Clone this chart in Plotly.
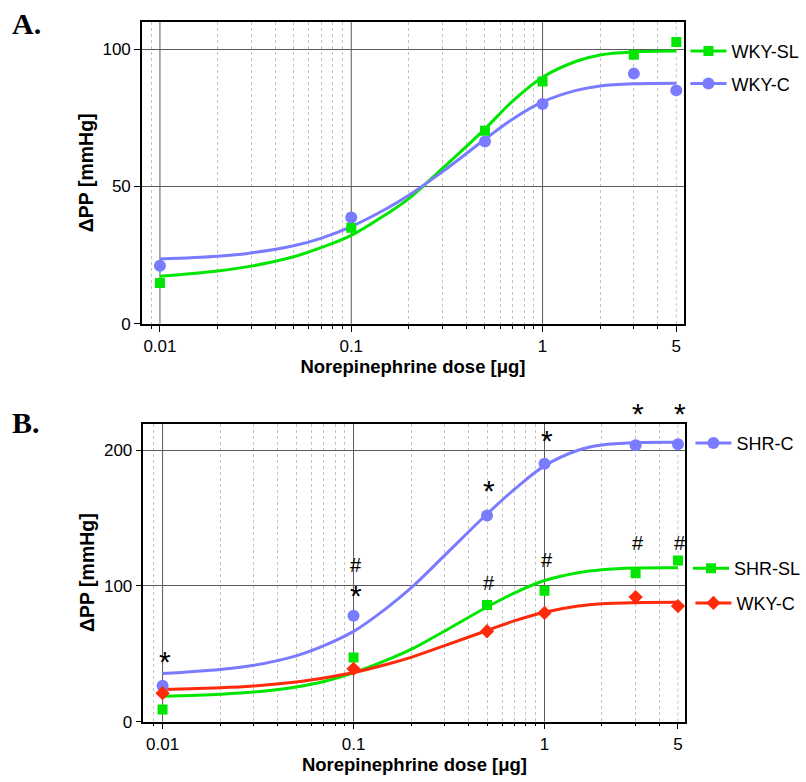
import math
import plotly.graph_objects as go

W, H = 806, 782

# ---------------- data ----------------
dose = [0.01, 0.1, 0.5, 1, 3, 5]

# Panel A (measured points)
a_wky_sl = [14.9, 35.0, 70.3, 88.2, 98.0, 102.6]
a_wky_c = [21.1, 38.7, 66.4, 80.0, 91.1, 85.0]

# Panel A fitted curves
a_curve_dose = [0.01, 0.02, 0.03, 0.05, 0.07, 0.1, 0.15, 0.2, 0.3, 0.5, 0.7, 1, 1.5, 2, 3, 5]
a_curve_wky_sl = [17.3, 19.2, 21.0, 24.4, 27.8, 32.2, 39.6, 45.6, 56.6, 71.0, 81.2, 89.8, 95.6, 97.9, 99.0, 99.3]
a_curve_wky_c = [23.6, 24.6, 25.8, 28.4, 31.2, 35.4, 41.6, 46.8, 55.4, 67.2, 74.6, 80.8, 85.0, 86.6, 87.4, 87.6]

# Panel B (measured points)
b_shr_c = [26.5, 78.0, 152.0, 190.0, 203.7, 204.4]
b_shr_sl = [9.0, 47.3, 86.0, 96.4, 109.3, 118.7]
b_wky_c = [21.0, 38.9, 66.6, 80.1, 91.8, 85.2]

# Panel B fitted curves
b_curve_dose = [0.01, 0.02, 0.03, 0.05, 0.07, 0.1, 0.15, 0.2, 0.3, 0.5, 0.7, 1, 1.5, 2, 3, 5]
b_curve_shr_c = [35.5, 38.5, 41.5, 48.5, 56.0, 66.5, 84.0, 98.5, 122.5, 153.0, 171.5, 188.5, 200.0, 203.8, 205.5, 205.8]
b_curve_shr_sl = [18.7, 20.2, 21.8, 25.6, 29.6, 36.0, 45.5, 53.2, 66.8, 84.5, 95.0, 104.0, 109.8, 112.0, 113.2, 113.4]
b_curve_wky_c = [23.8, 25.0, 26.3, 29.2, 32.2, 36.2, 42.3, 47.4, 56.0, 67.2, 74.4, 80.6, 85.2, 86.9, 87.7, 87.9]

# significance marks in panel B
star_dose = [0.01, 0.1, 0.5, 1, 3, 5]
star_y = [49.4, 97.9, 175.4, 212.5, 231.8, 231.8]
hash_dose = [0.1, 0.5, 1, 3, 5]
hash_y = [115.6, 102.3, 119.2, 131.8, 132.0]

x_tickvals = [0.01, 0.1, 1, 5]
x_ticktext = ["0.01", "0.1", "1", "5"]
x_major = [0.01, 0.1, 1]
x_minor = [0.009, 0.02, 0.03, 0.04, 0.05, 0.06, 0.07, 0.08, 0.09,
           0.2, 0.3, 0.4, 0.5, 0.6, 0.7, 0.8, 0.9, 2, 3, 4]
x_light_extra = [5]
a_yticks = [0, 50, 100]
b_yticks = [0, 100, 200]

GREEN = "#00e600"
BLUE = "#7b7bff"
RED = "#ff2a0a"
FONT = "Liberation Sans"

fig = go.Figure()

def add_curve(x, y, color, xa, ya):
    fig.add_trace(go.Scatter(x=x, y=y, mode="lines", line=dict(color=color, width=3, shape="spline", smoothing=1.0),
                             xaxis=xa, yaxis=ya, showlegend=False, hoverinfo="skip"))

def add_points(x, y, color, symbol, size, xa, ya):
    fig.add_trace(go.Scatter(x=x, y=y, mode="markers", marker=dict(color=color, symbol=symbol, size=size),
                             xaxis=xa, yaxis=ya, showlegend=False))

def add_key(name, color, symbol, size, xa, ya, legend):
    fig.add_trace(go.Scatter(x=[None], y=[None], mode="lines+markers", name=name,
                             line=dict(color=color, width=3),
                             marker=dict(color=color, symbol=symbol, size=size),
                             xaxis=xa, yaxis=ya, legend=legend, showlegend=True))

# Panel A
add_curve(a_curve_dose, a_curve_wky_sl, GREEN, "x", "y")
add_curve(a_curve_dose, a_curve_wky_c, BLUE, "x", "y")
add_points(dose, a_wky_sl, GREEN, "square", 10, "x", "y")
add_points(dose, a_wky_c, BLUE, "circle", 12, "x", "y")
add_key("WKY-SL", GREEN, "square", 10, "x", "y", "legend")
add_key("WKY-C", BLUE, "circle", 12, "x", "y", "legend2")

# Panel B
add_curve(b_curve_dose, b_curve_shr_c, BLUE, "x2", "y2")
add_curve(b_curve_dose, b_curve_shr_sl, GREEN, "x2", "y2")
add_curve(b_curve_dose, b_curve_wky_c, RED, "x2", "y2")
add_points(dose, b_shr_c, BLUE, "circle", 12, "x2", "y2")
add_points(dose, b_shr_sl, GREEN, "square", 10, "x2", "y2")
add_points(dose, b_wky_c, RED, "diamond", 11, "x2", "y2")
add_key("SHR-C", BLUE, "circle", 12, "x2", "y2", "legend3")
add_key("SHR-SL", GREEN, "square", 10, "x2", "y2", "legend4")
add_key("WKY-C", RED, "diamond", 11, "x2", "y2", "legend5")

tickfont = dict(family=FONT, size=17, color="black")
xtitlefont = dict(family=FONT, size=18.5, color="black")
ytitlefont = dict(family=FONT, size=19.5, color="black")
LIGHT = "#c4c4c4"
DARK = "#5a5a5a"

def xaxis(domain, rng, anchor):
    return dict(domain=domain, anchor=anchor, type="log", range=rng,
                tickmode="array", tickvals=x_tickvals, ticktext=x_ticktext,
                ticks="outside", ticklen=6, tickwidth=1, tickcolor="black",
                showline=True, linecolor="black", linewidth=1.5, mirror=True,
                showgrid=False,
                minor=dict(tickmode="array", tickvals=x_minor, ticks="outside", ticklen=3,
                           tickcolor="black", showgrid=True, gridcolor=LIGHT,
                           griddash="dot", gridwidth=1),
                zeroline=False, tickfont=tickfont,
                title=dict(text="<b>Norepinephrine dose [μg]</b>", font=xtitlefont, standoff=5))

def yaxis(domain, rng, ticks, anchor):
    return dict(domain=domain, anchor=anchor, range=rng, tickmode="array", tickvals=ticks,
                ticks="outside", ticklen=6, tickwidth=1, tickcolor="black",
                showline=True, linecolor="black", linewidth=1.5, mirror=True,
                showgrid=True, gridcolor=DARK, gridwidth=1, zeroline=False,
                tickfont=tickfont,
                title=dict(text="<b>ΔPP [mmHg]</b>", font=ytitlefont, standoff=4))

def legend_at(px, py):
    return dict(x=px / W, y=1 - py / H, xanchor="left", yanchor="middle",
                font=dict(family=FONT, size=18, color="black"), bgcolor="rgba(0,0,0,0)",
                borderwidth=0, itemwidth=36, itemsizing="trace")

A_YR = [0, 110]
B_YR = [0, 219.7]
B_TOP_PX, B_BOT_PX = 429, 731
B_PX_PER_UNIT = (B_BOT_PX - B_TOP_PX) / (B_YR[1] - B_YR[0])

shapes = []
for xa, ya, yr in (("x", "y", A_YR), ("x2", "y2", B_YR)):
    for v in x_major:
        shapes.append(dict(type="line", xref=xa, yref=ya, x0=v, x1=v, y0=yr[0], y1=yr[1],
                           line=dict(color=DARK, width=1), layer="below"))
    for v in x_light_extra:
        shapes.append(dict(type="line", xref=xa, yref=ya, x0=v, x1=v, y0=yr[0], y1=yr[1],
                           line=dict(color=LIGHT, width=1, dash="dot"), layer="below"))

annotations = [
    dict(text="<b>A.</b>", x=10 / W, y=1 - 24 / H, xref="paper", yref="paper", xanchor="left",
         yanchor="middle", showarrow=False, font=dict(family="Liberation Serif", size=30, color="black")),
    dict(text="<b>B.</b>", x=10 / W, y=1 - 428 / H, xref="paper", yref="paper", xanchor="left",
         yanchor="middle", showarrow=False, font=dict(family="Liberation Serif", size=30, color="black")),
]

def sig_mark(text, xv, yv, size, base_shift):
    # annotation x on a log axis is given as log10 of the value;
    # marks above the axis range are anchored at the top and shifted up
    y_draw = min(yv, B_YR[1])
    extra = (yv - y_draw) * B_PX_PER_UNIT
    return dict(text=text, x=math.log10(xv), y=y_draw, xref="x2", yref="y2", showarrow=False,
                yshift=base_shift + extra, xshift=2, font=dict(family=FONT, size=size, color="black"))

for xv, yv in zip(star_dose, star_y):
    annotations.append(sig_mark("*", xv, yv, 30, -7))
for xv, yv in zip(hash_dose, hash_y):
    annotations.append(sig_mark("#", xv, yv, 20, 0))

fig.update_layout(
    width=W, height=H, margin=dict(l=0, r=0, t=0, b=0),
    paper_bgcolor="white", plot_bgcolor="white",
    xaxis=xaxis([142.5 / W, 686.5 / W], [-2.094, 0.739], "y"),
    yaxis=yaxis([1 - 328 / H, 1 - 22 / H], A_YR, a_yticks, "x"),
    xaxis2=xaxis([144 / W, 688 / W], [-2.1, 0.738], "y2"),
    yaxis2=yaxis([1 - B_BOT_PX / H, 1 - B_TOP_PX / H], B_YR, b_yticks, "x2"),
    legend=legend_at(688, 52),
    legend2=legend_at(688, 85),
    legend3=legend_at(693, 449),
    legend4=legend_at(691, 576),
    legend5=legend_at(693, 611),
    shapes=shapes,
    annotations=annotations,
    font=dict(family=FONT),
)

fig.write_html("out.html", config={"displayModeBar": False},
               post_script="document.body.style.margin='0';")
